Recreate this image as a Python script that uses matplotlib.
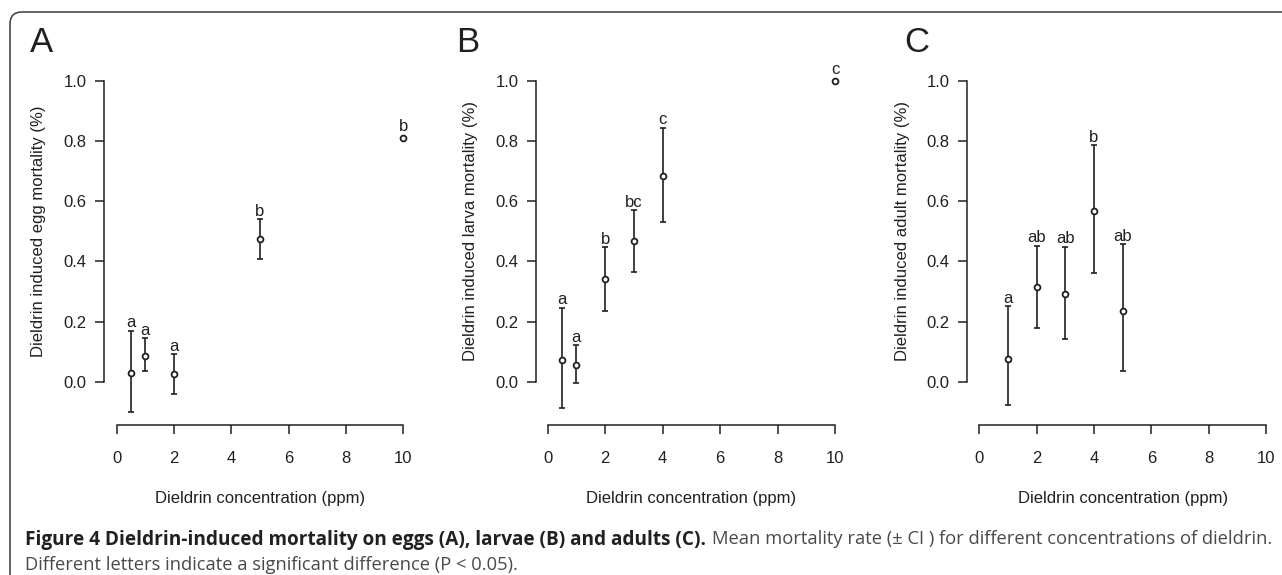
import numpy as np
import matplotlib
matplotlib.use("Agg")
import matplotlib.pyplot as plt
from matplotlib.patches import FancyBboxPatch

# ---------------- data ----------------
conc_A = [0.5, 1, 2, 5, 10]
mean_A = [0.030, 0.086, 0.025, 0.473, 0.811]
lo_A = [-0.100, 0.036, -0.042, 0.407, np.nan]
hi_A = [0.169, 0.144, 0.091, 0.540, np.nan]
letters_A = ["a", "a", "a", "b", "b"]

conc_B = [0.5, 1, 2, 3, 4, 10]
mean_B = [0.072, 0.055, 0.341, 0.468, 0.684, 1.000]
lo_B = [-0.088, -0.005, 0.236, 0.364, 0.531, np.nan]
hi_B = [0.246, 0.122, 0.446, 0.570, 0.844, np.nan]
letters_B = ["a", "a", "b", "bc", "c", "c"]

conc_C = [1, 2, 3, 4, 5]
mean_C = [0.076, 0.314, 0.292, 0.566, 0.236]
lo_C = [-0.077, 0.179, 0.143, 0.360, 0.036]
hi_C = [0.251, 0.452, 0.448, 0.786, 0.457]
letters_C = ["a", "ab", "ab", "b", "ab"]

panel_letters = ["A", "B", "C"]
ylabels = ["Dieldrin induced egg mortality (%)",
           "Dieldrin induced larva mortality (%)",
           "Dieldrin induced adult mortality (%)"]
xlabel = "Dieldrin concentration (ppm)"
xticks = [0, 2, 4, 6, 8, 10]
yticks = [0.0, 0.2, 0.4, 0.6, 0.8, 1.0]
caption_bold = "Figure 4 Dieldrin-induced mortality on eggs (A), larvae (B) and adults (C)."
caption_norm = "Mean mortality rate (\u00b1 CI ) for different concentrations of dieldrin."
caption_line2 = "Different letters indicate a significant difference (P < 0.05)."

# ---------------- layout ----------------
W, H = 1282, 575
DPI = 100
INK = "#231f20"
FS = 12
plt.rcParams["font.family"] = ["Liberation Sans", "DejaVu Sans"]

fig = plt.figure(figsize=(W / DPI, H / DPI), dpi=DPI)
fig.patch.set_facecolor("white")

# frame
frame = FancyBboxPatch((10, -30), 1320, H - 12 + 30,
                       boxstyle="round,pad=0,rounding_size=12",
                       transform=None, fill=False, edgecolor="#3a3a3a",
                       linewidth=1.1)
fig.add_artist(frame)

# pixel geometry: (spine_x, x0_px, x10_px, ylabel_x, letter_x)
panels = [
    (104.3, 116.7, 403.3, 39, 42),
    (536.0, 547.7, 835.0, 470, 468),
    (967.3, 979.3, 1266.0, 903, 917),
]
y0_px, y1_px = 381.7, 80.7     # pixel rows for 0.0 and 1.0
xaxis_px = 425.0
top_px = 50.0

datasets = [
    (conc_A, mean_A, lo_A, hi_A, letters_A),
    (conc_B, mean_B, lo_B, hi_B, letters_B),
    (conc_C, mean_C, lo_C, hi_C, letters_C),
]

for i, (spx, x0p, x10p, ylx, ltx) in enumerate(panels):
    xs = (x10p - x0p) / 10.0
    ys = (y0_px - y1_px) / 1.0
    right_px = x10p + 12
    left = spx / W
    width = (right_px - spx) / W
    bottom = (H - xaxis_px) / H
    height = (xaxis_px - top_px) / H
    ax = fig.add_axes([left, bottom, width, height])
    ax.set_xlim(-(x0p - spx) / xs, 10 + 12 / xs)
    ax.set_ylim((y0_px - xaxis_px) / ys, (y0_px - top_px) / ys)
    ax.patch.set_alpha(0)

    for s in ["top", "right"]:
        ax.spines[s].set_visible(False)
    ax.spines["left"].set_bounds(0, 1)
    ax.spines["bottom"].set_bounds(0, 10)
    for s in ["left", "bottom"]:
        ax.spines[s].set_color(INK)
        ax.spines[s].set_linewidth(1.1)

    ax.set_xticks(xticks)
    ax.set_xticklabels([str(t) for t in xticks])
    ax.set_yticks(yticks)
    ax.set_yticklabels(["%.1f" % t for t in yticks])
    ax.tick_params(axis="x", length=6.5, width=1.1, color=INK, pad=12,
                   labelsize=FS, labelcolor=INK)
    ax.tick_params(axis="y", length=6.2, width=1.1, color=INK, pad=6.5,
                   labelsize=FS, labelcolor=INK)

    conc, mean, lo, hi, letters = datasets[i]
    conc = np.array(conc, float)
    mean = np.array(mean, float)
    lo = np.array(lo, float)
    hi = np.array(hi, float)
    has = np.isfinite(lo) & np.isfinite(hi)
    ax.errorbar(conc[has], mean[has],
                yerr=[mean[has] - lo[has], hi[has] - mean[has]],
                fmt="none", ecolor=INK, elinewidth=1.2, capsize=2.0,
                capthick=1.2, clip_on=False, zorder=2)
    ax.plot(conc, mean, linestyle="none", marker="o", markersize=4.2,
            markerfacecolor="white", markeredgecolor=INK,
            markeredgewidth=1.3, clip_on=False, zorder=3)
    for xv, mv, hv, hs, lab in zip(conc, mean, hi, has, letters):
        base = hv if hs else mv
        off = 2.5 if hs else 5.0
        ax.annotate(lab, (xv, base), xytext=(0, off),
                    textcoords="offset points", ha="center",
                    va="baseline", fontsize=FS, color=INK,
                    annotation_clip=False)

    # labels
    fig.text(ylx / W, 1 - (y0_px - 0.5 * ys) / H, ylabels[i],
             rotation=90, ha="center", va="center", fontsize=FS,
             color=INK)
    fig.text((x0p + 5 * xs) / W, 1 - 498 / H, xlabel, ha="center",
             va="center", fontsize=FS, color=INK)
    fig.text(ltx / W, 1 - 43 / H, panel_letters[i], ha="center",
             va="center", fontsize=25, color=INK)

# caption
cap_font = ["Open Sans", "DejaVu Sans"]
t1 = fig.text(25 / W, 1 - 544.5 / H, caption_bold, fontsize=13.7,
              fontweight="bold", family=cap_font, color=INK,
              ha="left", va="baseline")
fig.canvas.draw()
bb = t1.get_window_extent()
fig.text((bb.x1 + 6) / W, 1 - 544.5 / H, caption_norm, fontsize=13.2,
         family=cap_font, color="#4a4a4a", ha="left", va="baseline")
fig.text(25 / W, 1 - 569.5 / H, caption_line2, fontsize=13.2,
         family=cap_font, color="#4a4a4a", ha="left", va="baseline")

fig.savefig("out.png", dpi=DPI, facecolor="white")
